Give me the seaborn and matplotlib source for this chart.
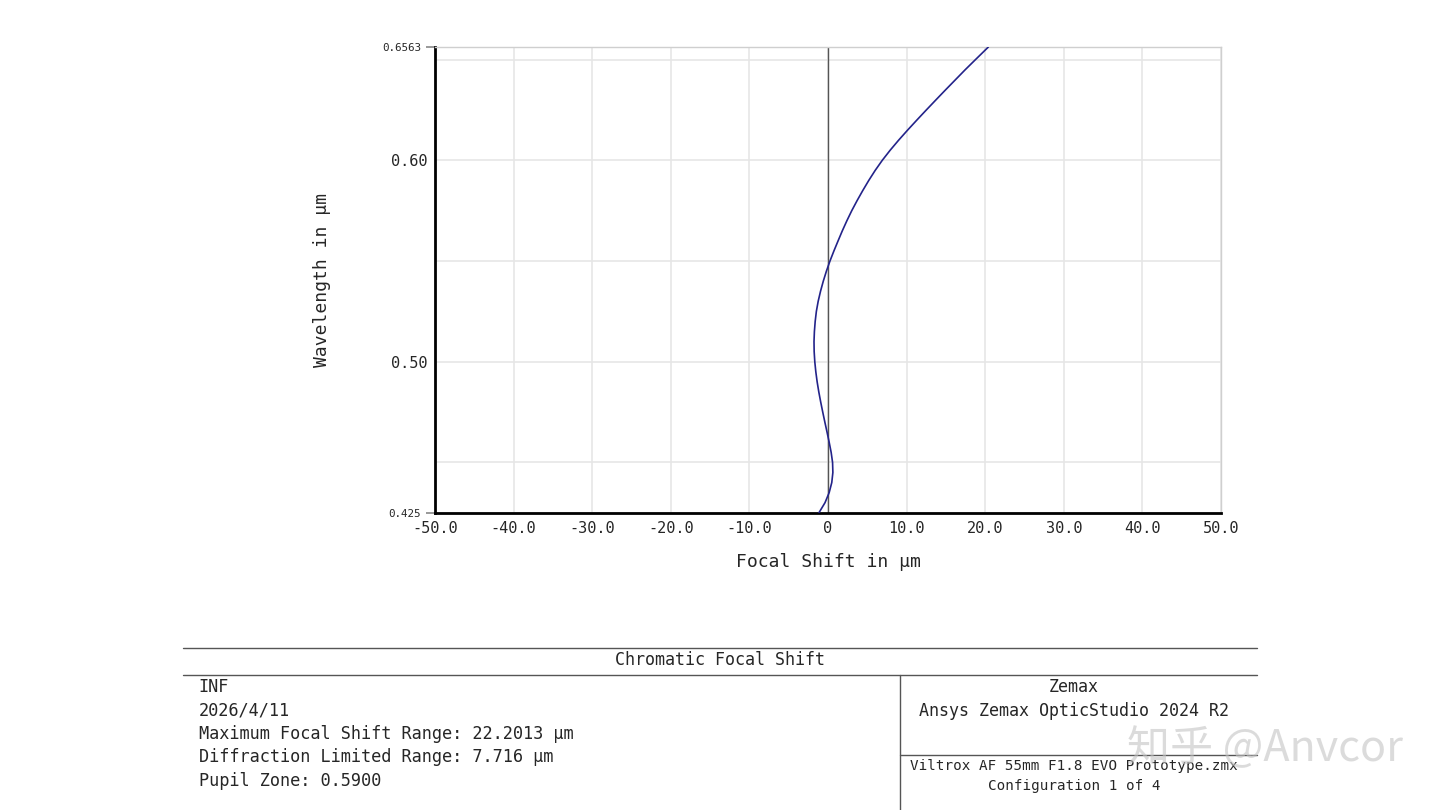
import seaborn as sns
import matplotlib.pyplot as plt
import pandas as pd
from matplotlib.lines import Line2D

# Chromatic focal shift curve
wavelength = [0.425, 0.430, 0.435, 0.440, 0.445, 0.450, 0.455, 0.460, 0.465, 0.470,
              0.475, 0.480, 0.485, 0.490, 0.495, 0.500, 0.505, 0.510, 0.515, 0.520,
              0.525, 0.530, 0.535, 0.540, 0.545, 0.550, 0.555, 0.560, 0.565, 0.570,
              0.575, 0.580, 0.585, 0.590, 0.595, 0.600, 0.605, 0.610, 0.615, 0.620,
              0.625, 0.630, 0.635, 0.640, 0.645, 0.650, 0.6563]
focal_shift = [-1.15, -0.38, 0.15, 0.48, 0.62, 0.58, 0.40, 0.15, -0.12, -0.40,
               -0.67, -0.93, -1.17, -1.38, -1.55, -1.68, -1.76, -1.78, -1.73, -1.63,
               -1.48, -1.25, -0.95, -0.60, -0.20, 0.25, 0.75, 1.28, 1.82, 2.40,
               3.02, 3.70, 4.42, 5.18, 6.00, 6.90, 7.90, 8.98, 10.12, 11.30,
               12.50, 13.72, 14.95, 16.20, 17.45, 18.75, 20.40]

x_ticks = [-50, -40, -30, -20, -10, 0, 10, 20, 30, 40, 50]
x_labels = ["-50.0", "-40.0", "-30.0", "-20.0", "-10.0", "0", "10.0", "20.0", "30.0", "40.0", "50.0"]
y_ticks = [0.425, 0.50, 0.60, 0.6563]
y_labels = ["0.425", "0.50", "0.60", "0.6563"]
y_minor = [0.45, 0.55, 0.65]

left_lines = ["INF", "2026/4/11", "Maximum Focal Shift Range: 22.2013 µm",
              "Diffraction Limited Range: 7.716 µm", "Pupil Zone: 0.5900"]

df = pd.DataFrame({"shift": focal_shift, "wl": wavelength})

sns.set_style("white")
plt.rcParams['font.family'] = ['DejaVu Sans Mono']

fig = plt.figure(figsize=(14.4, 8.1), dpi=100)
ax = fig.add_axes([0.302, 0.367, 0.546, 0.575])

ax.axvline(0, color="#555555", lw=1.0, zorder=2)
sns.lineplot(data=df, x="shift", y="wl", sort=False, estimator=None,
             color="#23238a", lw=1.2, ax=ax, zorder=3)

ax.set_xlim(-50, 50)
ax.set_ylim(0.425, 0.6563)
ax.set_xticks(x_ticks)
ax.set_xticklabels(x_labels, fontsize=11)
ax.set_yticks(y_ticks)
ax.set_yticklabels(y_labels, fontsize=11)
ax.set_yticks(y_minor, minor=True)
ax.grid(True, which="both", color="#e6e6e6", lw=1.2)
ax.tick_params(axis="x", length=0, pad=6)
ax.tick_params(axis="y", which="major", left=True, length=6.5, width=1.2,
               color="#888888", pad=3.5)
ax.tick_params(axis="y", which="minor", length=0)
for lab in ax.get_yticklabels():
    if lab.get_text() in ("0.425", "0.6563"):
        lab.set_fontsize(7.8)
for i, t in enumerate(ax.yaxis.get_major_ticks()):
    if y_labels[i] in ("0.50", "0.60"):
        t.tick1line.set_visible(False)
        t.set_pad(-1.5)

for s in ["top", "right"]:
    ax.spines[s].set_color("#cfcfcf")
    ax.spines[s].set_linewidth(1.0)
for s in ["left", "bottom"]:
    ax.spines[s].set_color("black")
    ax.spines[s].set_linewidth(2.0)

ax.set_xlabel("Focal Shift in µm", fontsize=13, labelpad=12)
ax.set_ylabel("Wavelength in µm", fontsize=13)
ax.yaxis.set_label_coords(-0.132, 0.5)

# info box at the bottom
fig.add_artist(Line2D([0.127, 0.873], [0.2, 0.2], color="#555555", lw=1))
fig.add_artist(Line2D([0.127, 0.873], [0.1667, 0.1667], color="#555555", lw=1))
fig.add_artist(Line2D([0.625, 0.625], [0.0, 0.1667], color="#555555", lw=1))
fig.add_artist(Line2D([0.625, 0.873], [0.068, 0.068], color="#555555", lw=1))

fig.text(0.5, 0.185, "Chromatic Focal Shift", ha="center", va="center", fontsize=12)
for i, line in enumerate(left_lines):
    fig.text(0.138, 0.152 - i * 0.029, line, ha="left", va="center", fontsize=12.2)
fig.text(0.746, 0.152, "Zemax", ha="center", va="center", fontsize=12)
fig.text(0.746, 0.122, "Ansys Zemax OpticStudio 2024 R2", ha="center", va="center", fontsize=12)
fig.text(0.746, 0.054, "Viltrox AF 55mm F1.8 EVO Prototype.zmx", ha="center", va="center", fontsize=10.3)
fig.text(0.746, 0.030, "Configuration 1 of 4", ha="center", va="center", fontsize=10.3)

fig.text(0.8785, 0.075, "知乎 @Anvcor", ha="center", va="center", fontsize=31,
         color="#c4c4c4", alpha=0.6, family=["Noto Sans CJK SC", "DejaVu Sans"])

fig.savefig("out.png", dpi=100)
